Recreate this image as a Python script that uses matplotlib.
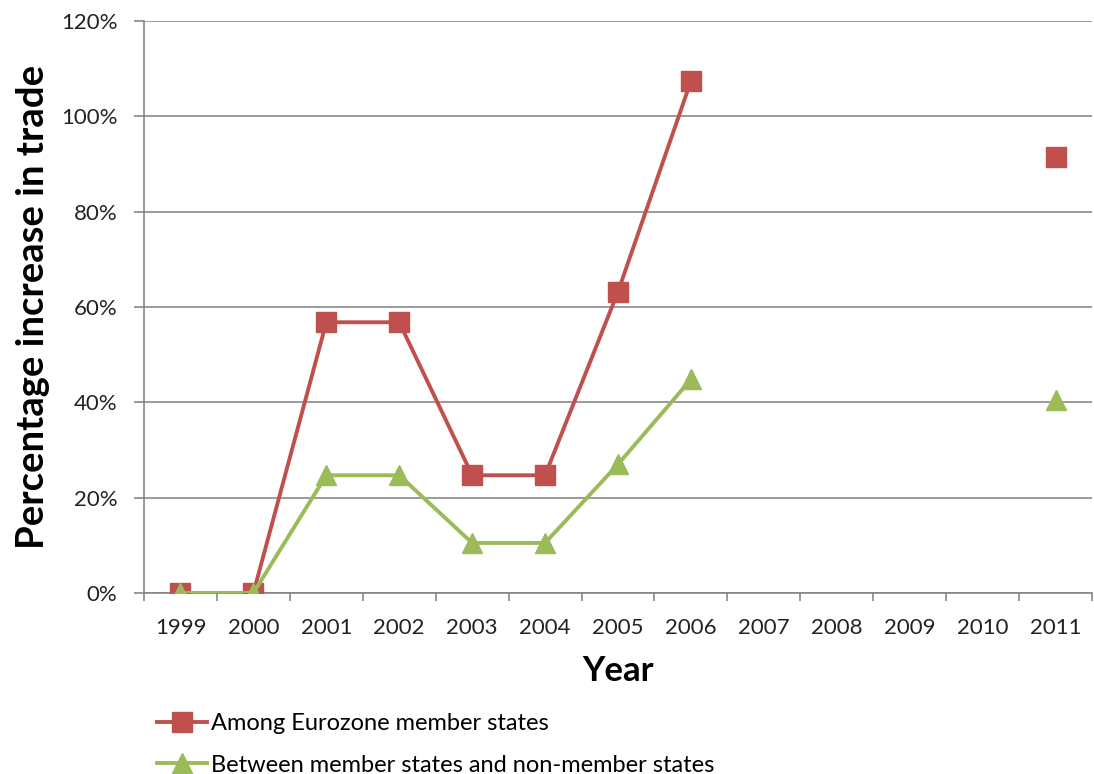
import numpy as np
import matplotlib
matplotlib.use("Agg")
import matplotlib.pyplot as plt

years = ["1999", "2000", "2001", "2002", "2003", "2004", "2005", "2006",
         "2007", "2008", "2009", "2010", "2011"]
eurozone = [0, 0, 56.8, 56.8, 24.7, 24.7, 63.2, 107.4,
            np.nan, np.nan, np.nan, np.nan, 91.4]
non_member = [0, 0, 24.7, 24.7, 10.5, 10.5, 27.0, 44.8,
              np.nan, np.nan, np.nan, np.nan, 40.4]
yticks = [0, 20, 40, 60, 80, 100, 120]

plt.rcParams['font.family'] = ['Lato', 'DejaVu Sans']

fig = plt.figure(figsize=(10.94, 7.74), dpi=100)
ax = fig.add_axes([144/1094, 1-593/774, (1092-144)/1094, (593-21)/774])

x = np.arange(len(years))
red = "#C0504D"
green = "#9BBB59"
ax.plot(x, eurozone, color=red, lw=2.8, marker="s", ms=14,
        label="Among Eurozone member states", zorder=3)
ax.plot(x, non_member, color=green, lw=2.8, marker="^", ms=14,
        label="Between member states and non-member states", zorder=4)

ax.set_xlim(-0.5, len(years) - 0.5)
ax.set_ylim(0, 120)
ax.set_yticks(yticks)
ax.set_yticklabels([f"{v}%" for v in yticks], fontsize=16, color="#222222")
ax.set_xticks(x)
ax.set_xticklabels(years, fontsize=16, color="#222222")
ax.set_xticks(np.arange(-0.5, len(years)), minor=True)
ax.tick_params(axis="x", which="major", length=0, pad=18)
ax.tick_params(axis="x", which="minor", length=6, color="#868686", width=1.2)
ax.tick_params(axis="y", length=7, color="#868686", width=1.2, pad=12)

ax.grid(axis="y", color="#8a8a8a", lw=1.2)
ax.set_axisbelow(True)
for s in ["top", "right"]:
    ax.spines[s].set_visible(False)
for s in ["left", "bottom"]:
    ax.spines[s].set_color("#868686")
    ax.spines[s].set_linewidth(1.2)

ax.set_xlabel("Year", fontsize=25, fontweight="bold", labelpad=12)
ax.set_ylabel("Percentage increase in trade", fontsize=27.5, fontweight="bold", labelpad=8)

fig.legend(loc="upper left", bbox_to_anchor=(148/1094, 1-704/774),
           frameon=False, fontsize=17, handlelength=2.1, handletextpad=0.15,
           labelspacing=0.85, borderaxespad=0)

fig.savefig("out.png", dpi=100)
